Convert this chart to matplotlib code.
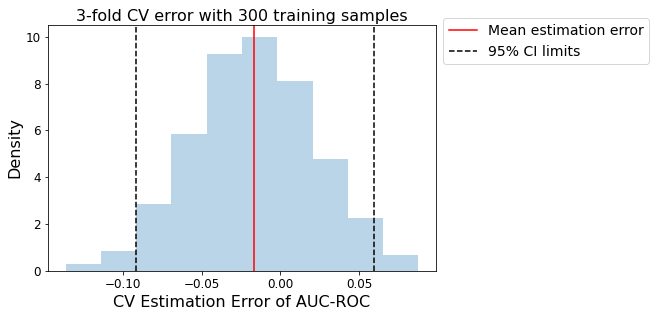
import numpy as np
import matplotlib
matplotlib.use("Agg")
import matplotlib.pyplot as plt

bin_edges = [-0.1363, -0.1139, -0.0915, -0.0691, -0.0467, -0.0243,
             -0.0019, 0.0205, 0.0429, 0.0653, 0.0877]
densities = [0.29, 0.85, 2.86, 5.85, 9.27, 10.0, 8.1, 4.79, 2.25, 0.67]
mean_error = -0.0168
ci_limits = [-0.0917, 0.0597]

DPI = 72
fig = plt.figure(figsize=(656/DPI, 317/DPI), dpi=DPI)
ax = fig.add_axes([48/656, 46/317, 388/656, 246/317])

edges = np.array(bin_edges)
ax.bar(edges[:-1], densities, width=np.diff(edges), align='edge',
       color='#1f77b4', alpha=0.3, linewidth=0)
ax.axvline(mean_error, color='red', linewidth=1.5, label='Mean estimation error')
ax.axvline(ci_limits[0], color='k', linestyle='--', linewidth=1.5, label='95% CI limits')
ax.axvline(ci_limits[1], color='k', linestyle='--', linewidth=1.5)

ax.set_xlim(-0.1475, 0.0989)
ax.set_ylim(0, 10.5)
ax.set_xticks([-0.10, -0.05, 0.00, 0.05])
ax.set_yticks([0, 2, 4, 6, 8, 10])
ax.tick_params(labelsize=12)
ax.set_title('3-fold CV error with 300 training samples', fontsize=16, pad=4)
ax.set_xlabel('CV Estimation Error of AUC-ROC', fontsize=16)
ax.set_ylabel('Density', fontsize=16)
ax.legend(loc='upper left', bbox_to_anchor=(1 + 7/388, 1 + 7/246),
          borderaxespad=0, fontsize=14)

fig.savefig('out.png', dpi=DPI)
